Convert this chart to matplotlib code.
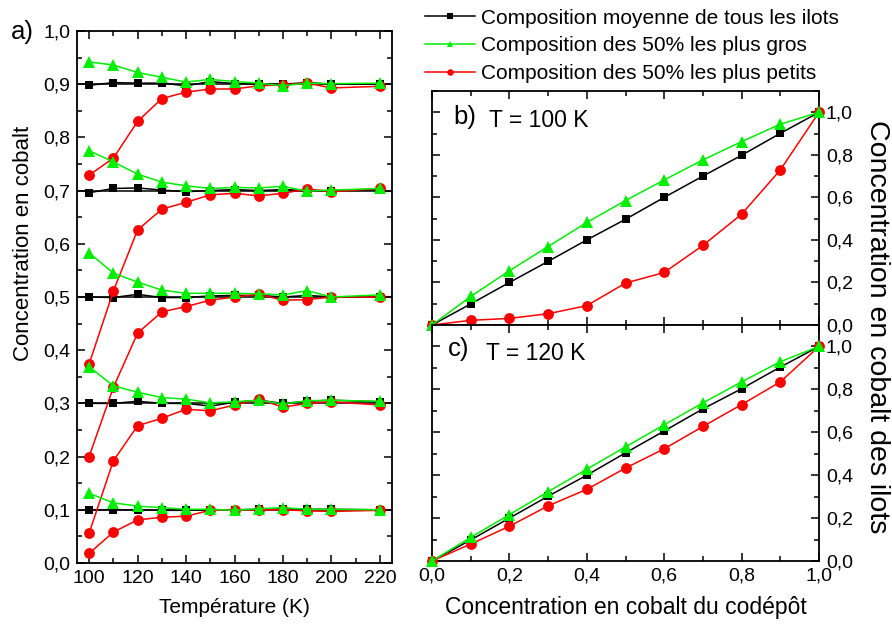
import numpy as np
import matplotlib
matplotlib.use("Agg")
import matplotlib.pyplot as plt
from matplotlib.ticker import MultipleLocator, FuncFormatter

plt.rcParams['font.family'] = ['Liberation Sans', 'DejaVu Sans']

# ---------------- data : panel a) ----------------
temps = [100, 110, 120, 130, 140, 150, 160, 170, 180, 190, 200, 220]

avg_09 = [0.898, 0.903, 0.902, 0.902, 0.897, 0.905, 0.901, 0.900, 0.900, 0.903, 0.900, 0.900]
big_09 = [0.942, 0.936, 0.922, 0.913, 0.904, 0.909, 0.905, 0.902, 0.897, 0.902, 0.901, 0.902]
small_09 = [0.729, 0.761, 0.830, 0.873, 0.885, 0.891, 0.891, 0.897, 0.899, 0.902, 0.893, 0.896]

avg_07 = [0.696, 0.704, 0.705, 0.701, 0.698, 0.700, 0.702, 0.700, 0.702, 0.700, 0.700, 0.702]
big_07 = [0.775, 0.754, 0.731, 0.716, 0.709, 0.704, 0.706, 0.705, 0.708, 0.699, 0.701, 0.704]
small_07 = [0.374, 0.511, 0.626, 0.665, 0.678, 0.692, 0.695, 0.690, 0.695, 0.703, 0.698, 0.704]

avg_05 = [0.500, 0.499, 0.505, 0.499, 0.499, 0.502, 0.503, 0.503, 0.500, 0.503, 0.500, 0.500]
big_05 = [0.583, 0.545, 0.528, 0.513, 0.507, 0.507, 0.507, 0.506, 0.504, 0.512, 0.500, 0.504]
small_05 = [0.200, 0.330, 0.432, 0.472, 0.482, 0.494, 0.500, 0.505, 0.494, 0.495, 0.500, 0.500]

avg_03 = [0.300, 0.300, 0.304, 0.300, 0.300, 0.295, 0.302, 0.306, 0.300, 0.304, 0.306, 0.303]
big_03 = [0.369, 0.333, 0.321, 0.311, 0.308, 0.301, 0.303, 0.306, 0.299, 0.305, 0.306, 0.304]
small_03 = [0.056, 0.192, 0.258, 0.272, 0.289, 0.286, 0.297, 0.308, 0.293, 0.300, 0.303, 0.297]

avg_01 = [0.100, 0.100, 0.100, 0.099, 0.099, 0.100, 0.100, 0.101, 0.102, 0.101, 0.101, 0.100]
big_01 = [0.131, 0.113, 0.107, 0.104, 0.101, 0.101, 0.099, 0.102, 0.104, 0.101, 0.101, 0.100]
small_01 = [0.018, 0.058, 0.081, 0.086, 0.088, 0.099, 0.100, 0.100, 0.100, 0.098, 0.097, 0.099]

nominal = [0.1, 0.3, 0.5, 0.7, 0.9]

# ---------------- data : panels b) and c) ----------------
codep = [0.0, 0.1, 0.2, 0.3, 0.4, 0.5, 0.6, 0.7, 0.8, 0.9, 1.0]

avg_100K = [0.0, 0.099, 0.200, 0.299, 0.400, 0.497, 0.600, 0.700, 0.798, 0.901, 1.0]
big_100K = [0.0, 0.134, 0.255, 0.369, 0.482, 0.585, 0.682, 0.776, 0.862, 0.944, 1.0]
small_100K = [0.0, 0.022, 0.031, 0.053, 0.091, 0.197, 0.247, 0.374, 0.521, 0.729, 1.0]

avg_120K = [0.0, 0.098, 0.200, 0.302, 0.400, 0.504, 0.606, 0.709, 0.803, 0.904, 1.0]
big_120K = [0.0, 0.110, 0.216, 0.323, 0.428, 0.532, 0.635, 0.737, 0.835, 0.929, 1.0]
small_120K = [0.0, 0.079, 0.162, 0.257, 0.334, 0.433, 0.523, 0.627, 0.729, 0.835, 1.0]

labels = ["Composition moyenne de tous les ilots",
          "Composition des 50% les plus gros",
          "Composition des 50% les plus petits"]

GREEN = "#00ee00"
RED = "#ff0000"
sq = dict(color="black", marker="s", ms=6.3, mew=0, lw=1.1)
tri = dict(color=GREEN, marker="^", ms=8.3, mew=0, lw=1.1)
circ = dict(color=RED, marker="o", ms=7.8, mew=0, lw=1.1)

comma = FuncFormatter(lambda v, p: ("%.1f" % v).replace(".", ","))
TICK_FS = 14


def style_axis(ax):
	ax.tick_params(which="both", direction="in", top=True, right=True, width=1.1)
	ax.tick_params(which="major", length=6)
	ax.tick_params(which="minor", length=3.5)
	for s in ax.spines.values():
		s.set_linewidth(1.3)


# ========================================= Figure ==================================================== #

fig = plt.figure(figsize=(8.92, 6.25), dpi=100)

# ---- panel a ----
ax_a = fig.add_axes([0.0863, 0.0992, 0.3532, 0.8512])
for y0 in nominal:
	ax_a.axhline(y0, color="black", lw=1.1, zorder=1)
for a, b, s in [(avg_09, big_09, small_09), (avg_07, big_07, small_07),
                (avg_05, big_05, small_05), (avg_03, big_03, small_03),
                (avg_01, big_01, small_01)]:
	ax_a.plot(temps, a, zorder=3, **sq)
	ax_a.plot(temps, s, zorder=4, **circ)
	ax_a.plot(temps, b, zorder=5, **tri)
ax_a.set_xlim(95, 225)
ax_a.set_ylim(0, 1.0)
ax_a.xaxis.set_major_locator(MultipleLocator(20))
ax_a.xaxis.set_minor_locator(MultipleLocator(10))
ax_a.yaxis.set_major_locator(MultipleLocator(0.1))
ax_a.yaxis.set_minor_locator(MultipleLocator(0.05))
ax_a.yaxis.set_major_formatter(comma)
style_axis(ax_a)
ax_a.tick_params(labelsize=TICK_FS, pad=5)
ax_a.set_xlabel("Température (K)", fontsize=15, labelpad=8)
fig.text(0.026, 0.61, "Concentration en cobalt", fontsize=16, rotation=90,
         ha="center", va="center")
fig.text(0.012, 0.949, "a)", fontsize=18.5, va="center", ha="left")

# ---- panel b ----
ax_b = fig.add_axes([0.4843, 0.48, 0.4339, 0.3744])
ax_b.plot(codep, avg_100K, zorder=3, **sq)
ax_b.plot(codep, small_100K, zorder=4, **circ)
ax_b.plot(codep, big_100K, zorder=5, **tri)

# ---- panel c ----
ax_c = fig.add_axes([0.4843, 0.1024, 0.4339, 0.3776])
ax_c.plot(codep, avg_120K, zorder=3, **sq)
ax_c.plot(codep, small_120K, zorder=4, **circ)
ax_c.plot(codep, big_120K, zorder=5, **tri)

for ax in (ax_b, ax_c):
	ax.set_xlim(0, 1.0)
	ax.set_ylim(0, 1.1)
	ax.xaxis.set_major_locator(MultipleLocator(0.2))
	ax.xaxis.set_minor_locator(MultipleLocator(0.1))
	ax.yaxis.set_major_locator(MultipleLocator(0.2))
	ax.yaxis.set_minor_locator(MultipleLocator(0.1))
	ax.xaxis.set_major_formatter(comma)
	ax.yaxis.set_major_formatter(comma)
	style_axis(ax)
	ax.tick_params(labelsize=TICK_FS, labelleft=False, labelright=True, pad=5)
	ax.set_yticks([0, 0.2, 0.4, 0.6, 0.8, 1.0])
	for t in ax.get_lines():
		t.set_clip_on(False)

ax_b.tick_params(labelbottom=False)
ax_c.set_xlabel("Concentration en cobalt du codépôt", fontsize=16.5, labelpad=8)

ax_b.text(0.054, 0.89, "b)", transform=ax_b.transAxes, fontsize=18.5, va="center")
ax_b.text(0.147, 0.873, "T = 100 K", transform=ax_b.transAxes, fontsize=16.5, va="center")
ax_c.text(0.041, 0.897, "c)", transform=ax_c.transAxes, fontsize=18.5, va="center")
ax_c.text(0.14, 0.88, "T = 120 K", transform=ax_c.transAxes, fontsize=16.5, va="center")

fig.text(0.983, 0.478, "Concentration en cobalt des ilots", fontsize=20.5,
         rotation=-90, ha="center", va="center")

# ---- legend ----
h1, = ax_b.plot([], [], **sq)
h2, = ax_b.plot([], [], **tri)
h3, = ax_b.plot([], [], **circ)
fig.legend([h1, h2, h3], labels, loc="upper left", bbox_to_anchor=(0.462, 1.006),
           frameon=False, fontsize=15, handlelength=2.4, handletextpad=0.3,
           labelspacing=0.42, markerscale=0.6, borderaxespad=0.2)

fig.savefig("out.png", dpi=100)
